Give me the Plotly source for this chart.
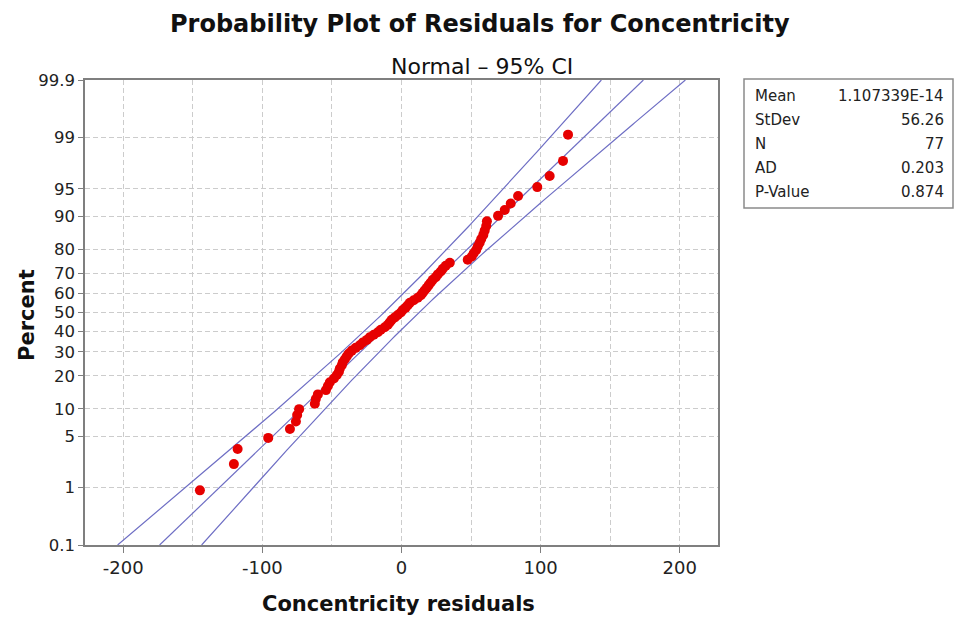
from statistics import NormalDist
import plotly.graph_objects as go

# ---- data -------------------------------------------------------------
# Sorted residuals of the Concentricity model (77 observations)
residuals = [
    -144.9, -120.5, -117.8, -95.8, -80.2, -75.9, -75.0, -73.6, -62.3, -61.6,
    -60.1, -54.3, -52.9, -51.5, -48.6, -46.5, -45.0, -44.3, -42.9, -42.2,
    -40.7, -39.3, -37.9, -35.7, -32.9, -30.0, -27.8, -24.9, -22.8, -19.9,
    -17.0, -14.9, -12.0, -9.8, -8.4, -7.0, -4.8, -2.7, -0.5, 0.9,
    3.0, 4.5, 6.0, 8.8, 11.7, 13.9, 15.3, 16.7, 18.2, 19.6,
    21.0, 22.5, 24.6, 26.1, 28.2, 29.7, 31.8, 34.7, 47.6, 50.5,
    51.9, 53.7, 54.8, 56.2, 57.3, 58.8, 59.8, 60.9, 61.4, 69.4,
    74.2, 78.5, 83.8, 97.6, 106.5, 116.1, 119.7,
]

# Summary statistics of the normal fit
fit_mean = 1.107339e-14
fit_stdev = 56.26
n_obs = 77

stat_names = ["Mean", "StDev", "N", "AD", "P-Value"]
stat_values = ["1.107339E-14", "56.26", "77", "0.203", "0.874"]

pct_ticks = [0.1, 1, 5, 10, 20, 30, 40, 50, 60, 70, 80, 90, 95, 99, 99.9]
pct_labels = ["0.1", "1", "5", "10", "20", "30", "40", "50", "60", "70",
              "80", "90", "95", "99", "99.9"]
x_ticks = [-200, -100, 0, 100, 200]
x_minor_grid = [-150, -50, 50, 150]

# ---- probability scale ------------------------------------------------
nd = NormalDist()


def z_of(pct):
    return nd.inv_cdf(pct / 100.0)


n = len(residuals)
# median-rank plotting positions, in percent
ranks_pct = [(i - 0.3) / (n + 0.4) * 100 for i in range(1, n + 1)]
pts_z = [z_of(p) for p in ranks_pct]

z_lo, z_hi = z_of(0.1), z_of(99.9)
z_grid = [z_lo + (z_hi - z_lo) * k / 200 for k in range(201)]
fit_x = [fit_mean + z * fit_stdev for z in z_grid]
half = [1.96 * fit_stdev * ((1 / n_obs) + z * z / (2 * n_obs)) ** 0.5 for z in z_grid]
lo_x = [f - h for f, h in zip(fit_x, half)]
hi_x = [f + h for f, h in zip(fit_x, half)]

LINE_C = "#6e6ec4"
GRID_C = "#cccccc"
AXIS_C = "#7f7f7f"
FONT = "DejaVu Sans"
DASH = "5px,3px"

fig = go.Figure()
for xs in (lo_x, fit_x, hi_x):
    fig.add_trace(go.Scatter(x=xs, y=z_grid, mode="lines",
                             line=dict(color=LINE_C, width=1.2),
                             hoverinfo="skip", showlegend=False))
fig.add_trace(go.Scatter(x=residuals, y=pts_z, mode="markers",
                         marker=dict(color="#e60000", size=10, line=dict(width=0)),
                         showlegend=False))

# plot area in pixels
L, R, T, B = 85, 718, 80, 545
W, H = 960, 617


def px(x):
    return (x - L) / (R - L)


def py(y):
    return (B - y) / (B - T)


fig.update_layout(
    width=W, height=H,
    margin=dict(l=L, r=W - R, t=T, b=H - B),
    paper_bgcolor="white", plot_bgcolor="white",
    font=dict(family=FONT, color="#222222"),
    showlegend=False,
)

fig.update_xaxes(
    range=[-227.5, 227.5], tickvals=x_ticks,
    ticktext=[str(v) for v in x_ticks],
    ticks="outside", ticklen=6, tickcolor=AXIS_C,
    tickfont=dict(size=18, color="#222222"),
    showgrid=True, gridcolor=GRID_C, griddash=DASH, gridwidth=1,
    minor=dict(tickvals=x_minor_grid, showgrid=True, gridcolor=GRID_C,
               griddash=DASH, ticks=""),
    zeroline=False, showline=True, mirror=True, linecolor=AXIS_C, linewidth=1.5,
)
fig.update_yaxes(
    range=[z_lo, z_hi], tickvals=[z_of(p) for p in pct_ticks], ticktext=pct_labels,
    ticks="outside", ticklen=5, tickcolor=AXIS_C,
    tickfont=dict(size=16.5, color="#222222"),
    showgrid=True, gridcolor=GRID_C, griddash=DASH, gridwidth=1,
    zeroline=False, showline=True, mirror=True, linecolor=AXIS_C, linewidth=1.5,
)

ann = []
ann.append(dict(text="<b>Probability Plot of Residuals for Concentricity</b>",
                x=px(480), y=py(24), xref="paper", yref="paper",
                showarrow=False, xanchor="center", yanchor="middle",
                font=dict(size=24, color="#111111")))
ann.append(dict(text="Normal \u2013 95% CI", x=px(482), y=py(67),
                xref="paper", yref="paper", showarrow=False,
                xanchor="center", yanchor="middle",
                font=dict(size=22, color="#111111")))
ann.append(dict(text="<b>Concentricity residuals</b>", x=px(398), y=py(604),
                xref="paper", yref="paper", showarrow=False,
                xanchor="center", yanchor="middle",
                font=dict(size=21, color="#111111")))
ann.append(dict(text="<b>Percent</b>", x=px(27), y=py(315), textangle=-90,
                xref="paper", yref="paper", showarrow=False,
                xanchor="center", yanchor="middle",
                font=dict(size=21, color="#111111")))

row_y = [96, 120, 144, 168, 192]
for name, val, ry in zip(stat_names, stat_values, row_y):
    ann.append(dict(text=name, x=px(753), y=py(ry), xref="paper", yref="paper",
                    showarrow=False, xanchor="left", yanchor="middle",
                    font=dict(size=15, color="#222222")))
    ann.append(dict(text=val, x=px(946), y=py(ry), xref="paper", yref="paper",
                    showarrow=False, xanchor="right", yanchor="middle",
                    font=dict(size=15, color="#222222")))
fig.update_layout(annotations=ann)

fig.add_shape(type="rect", xref="paper", yref="paper",
              x0=px(744), x1=px(953), y0=py(79), y1=py(208),
              line=dict(color="#8a8a8a", width=1.5), fillcolor="white", layer="below")

fig.write_html("out.html")
